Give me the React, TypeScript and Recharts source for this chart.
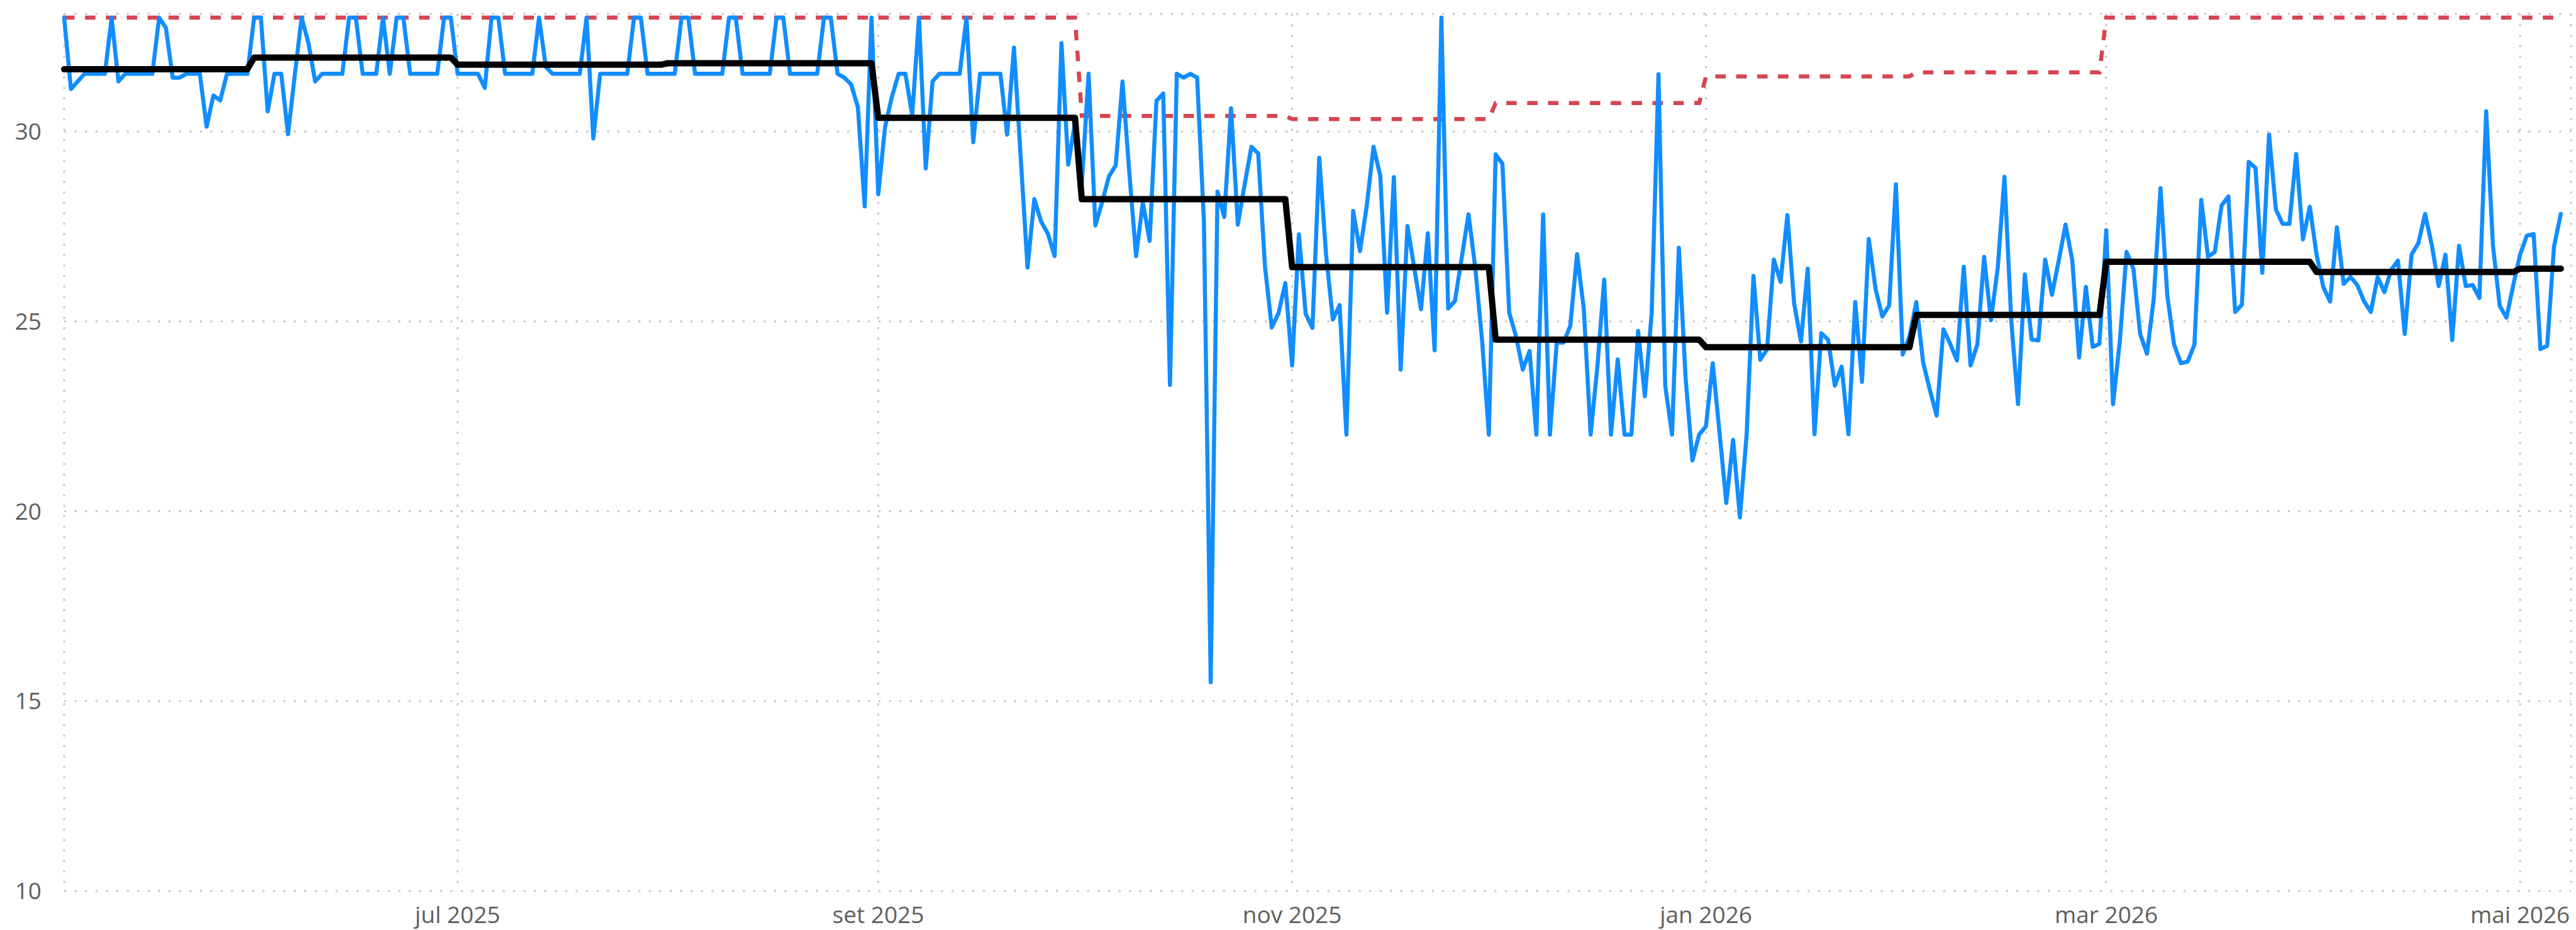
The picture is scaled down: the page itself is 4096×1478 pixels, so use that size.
import React from 'react';
import { LineChart, Line, XAxis, YAxis, CartesianGrid } from 'recharts';

// daily values, one array per month (first day: 4 May 2025)
const dailyMay25 = [
  33, 31.12, 31.32, 31.52, 31.52, 31.52, 31.52, 33, 31.32, 31.52, 31.52, 31.52, 31.52, 31.52,
  33, 32.73, 31.42, 31.42, 31.52, 31.52, 31.52, 30.13, 30.95, 30.82, 31.52, 31.52, 31.52, 31.52,
];
const dailyJun25 = [
  33, 33, 30.53, 31.52, 31.52, 29.93, 31.5, 33, 32.34, 31.32,
  31.52, 31.52, 31.52, 31.52, 33, 33, 31.52, 31.52, 31.52, 33,
  31.52, 33, 33, 31.52, 31.52, 31.52, 31.52, 31.52, 33, 33,
];
const dailyJul25 = [
  31.52, 31.52, 31.52, 31.52, 31.15, 33, 33, 31.52, 31.52, 31.52,
  31.52, 31.52, 33, 31.7, 31.52, 31.52, 31.52, 31.52, 31.52, 33,
  29.82, 31.52, 31.52, 31.52, 31.52, 31.52, 33, 33, 31.52, 31.52, 31.52,
];
const dailyAug25 = [
  31.52, 31.52, 33, 33, 31.52, 31.52, 31.52, 31.52, 31.52, 33,
  33, 31.52, 31.52, 31.52, 31.52, 31.52, 33, 33, 31.52, 31.52,
  31.52, 31.52, 31.52, 33, 33, 31.52, 31.42, 31.24, 30.64, 28.03, 33,
];
const dailySep25 = [
  28.35, 30.12, 30.91, 31.52, 31.52, 30.43, 33, 29.03, 31.32, 31.52,
  31.52, 31.52, 31.52, 33, 29.72, 31.52, 31.52, 31.52, 31.52, 29.92,
  32.21, 29.3, 26.42, 28.22, 27.63, 27.31, 26.72, 32.33, 29.13, 30.24,
];
const dailyOct25 = [
  28.62, 31.52, 27.53, 28.14, 28.82, 29.11, 31.32, 28.93, 26.72, 28.14,
  27.12, 30.81, 31.0, 23.33, 31.52, 31.42, 31.52, 31.42, 27.63, 15.5,
  28.42, 27.75, 30.61, 27.55, 28.6, 29.6, 29.42, 26.45, 24.84, 25.22, 26.01,
];
const dailyNov25 = [
  23.84, 27.29, 25.2, 24.83, 29.31, 26.77, 25.05, 25.43, 22.02, 27.91,
  26.85, 28.04, 29.6, 28.83, 25.23, 28.8, 23.73, 27.51, 26.41, 25.32,
  27.32, 24.24, 33, 25.34, 25.54, 26.68, 27.82, 26.41, 24.5, 22.02,
];
const dailyDec25 = [
  29.4, 29.15, 25.23, 24.61, 23.73, 24.22, 22.02, 27.82, 22.02, 24.44,
  24.44, 24.88, 26.77, 25.32, 22.02, 23.82, 26.1, 22.02, 24.0, 22.02,
  22.02, 24.75, 23.03, 25.23, 31.51, 23.3, 22.02, 26.94, 23.51, 21.34, 22.02,
];
const dailyJan26 = [
  22.24, 23.9, 22.07, 20.22, 21.88, 19.84, 22.03, 26.2, 23.99, 24.26,
  26.63, 26.04, 27.8, 25.47, 24.47, 26.39, 22.03, 24.69, 24.52, 23.31,
  23.81, 22.03, 25.51, 23.41, 27.17, 25.85, 25.13, 25.42, 28.61, 24.13, 24.6,
];
const dailyFeb26 = [
  25.51, 23.93, 23.2, 22.52, 24.79, 24.41, 23.97, 26.44, 23.84, 24.39,
  26.7, 25.03, 26.39, 28.81, 25.02, 22.82, 26.24, 24.52, 24.5, 26.63,
  25.7, 26.6, 27.55, 26.6, 24.05, 25.91, 24.33, 24.41,
];
const dailyMar26 = [
  27.4, 22.82, 24.48, 26.83, 26.39, 24.67, 24.15, 25.59, 28.51, 25.68,
  24.39, 23.9, 23.94, 24.39, 28.2, 26.7, 26.83, 28.05, 28.29, 25.25,
  25.44, 29.2, 29.04, 26.28, 29.92, 27.95, 27.57, 27.57, 29.41, 27.16, 28.02,
];
const dailyApr26 = [
  26.76, 25.9, 25.52, 27.48, 25.99, 26.17, 25.96, 25.53, 25.25, 26.17,
  25.77, 26.36, 26.6, 24.67, 26.76, 27.06, 27.83, 27.0, 25.93, 26.76,
  24.51, 26.99, 25.93, 25.96, 25.62, 30.53, 27.0, 25.41, 25.1, 25.96,
];
const dailyMay26 = [26.76, 27.26, 27.3, 24.27, 24.36, 26.97, 27.83];

const monthLabels = [
  'mai 2025', 'jun 2025', 'jul 2025', 'ago 2025', 'set 2025', 'out 2025', 'nov 2025',
  'dez 2025', 'jan 2026', 'fev 2026', 'mar 2026', 'abr 2026', 'mai 2026',
];
const monthlyAverage = [31.64, 31.95, 31.76, 31.8, 30.36, 28.22, 26.43, 24.52, 24.32, 25.17, 26.57, 26.3, 26.39];
const monthlyTarget = [33, 33, 33, 33, 33, 30.41, 30.33, 30.75, 31.45, 31.56, 33, 33, 33];

// months that get a label on the x axis
const tickMonths = [2, 4, 6, 8, 10, 12];
const yTicks = [10, 15, 20, 25, 30];

const months = [
  dailyMay25, dailyJun25, dailyJul25, dailyAug25, dailySep25, dailyOct25, dailyNov25,
  dailyDec25, dailyJan26, dailyFeb26, dailyMar26, dailyApr26, dailyMay26,
];

const rows: { day: number; value: number; average: number; target: number }[] = [];
const monthStart: number[] = [];
months.forEach((values, m) => {
  monthStart.push(rows.length);
  values.forEach((v) => {
    rows.push({ day: rows.length, value: v, average: monthlyAverage[m], target: monthlyTarget[m] });
  });
});

const xTicks = tickMonths.map((m) => monthStart[m]);
const labelFor = (day: number) => monthLabels[monthStart.indexOf(day)] ?? '';

const tickStyle = { fill: '#605e5c', fontSize: 37, fontFamily: "'Segoe UI', 'Open Sans', sans-serif" };

export default function App() {
  return (
    <div style={{ position: 'fixed', left: 0, top: 0, width: 4096, height: 1478, background: '#fff' }}>
      <LineChart
        width={4096}
        height={1478}
        data={rows}
        margin={{ top: 22, right: 8, bottom: 0, left: 0 }}
      >
        <CartesianGrid stroke="#c8c6c4" strokeWidth={3} strokeDasharray="3.3 13.3" />
        <XAxis
          dataKey="day"
          type="number"
          domain={[0, 369.5]}
          ticks={xTicks}
          tickFormatter={labelFor}
          axisLine={false}
          tickLine={false}
          tickSize={0}
          tickMargin={25}
          height={62}
          tick={tickStyle}
          interval={0}
        />
        <YAxis
          type="number"
          domain={[10, 33.1]}
          ticks={yTicks}
          axisLine={false}
          tickLine={false}
          tickSize={0}
          tickMargin={36}
          width={102}
          tick={tickStyle}
          interval={0}
        />
        <Line
          dataKey="target"
          type="linear"
          stroke="#d64550"
          strokeWidth={6.5}
          strokeDasharray="16.6 16.6"
          dot={false}
          activeDot={false}
          isAnimationActive={false}
        />
        <Line
          dataKey="value"
          type="linear"
          stroke="#118dff"
          strokeWidth={6.5}
          strokeLinejoin="round"
          strokeLinecap="round"
          dot={false}
          activeDot={false}
          isAnimationActive={false}
        />
        <Line
          dataKey="average"
          type="linear"
          stroke="#000000"
          strokeWidth={10}
          strokeLinejoin="round"
          strokeLinecap="round"
          dot={false}
          activeDot={false}
          isAnimationActive={false}
        />
      </LineChart>
    </div>
  );
}
